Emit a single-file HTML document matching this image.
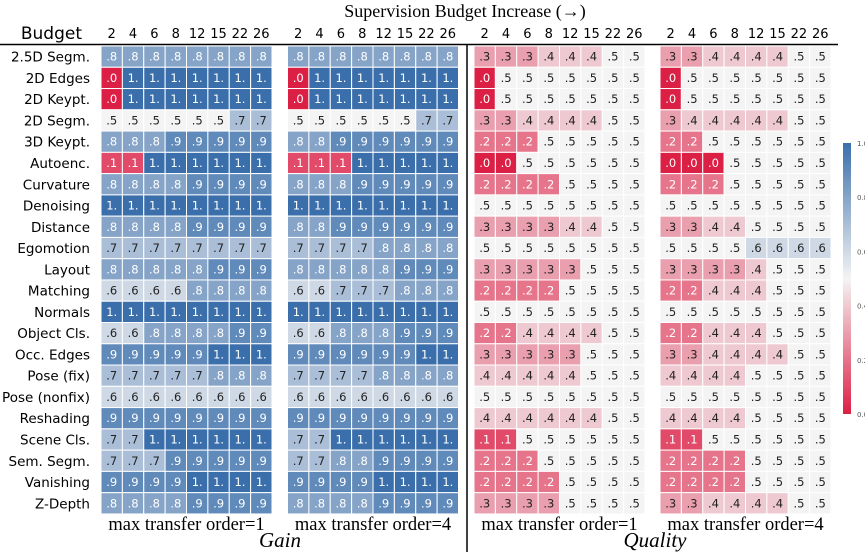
<!DOCTYPE html>
<html><head><meta charset="utf-8"><style>
html,body{margin:0;padding:0;background:#fff;}
svg{display:block;}
.serif{font-family:"Liberation Serif", serif;}
.sans{font-family:"DejaVu Sans", sans-serif;}
</style></head><body>
<svg id="chart" width="865" height="552" viewBox="0 0 865 552" xmlns="http://www.w3.org/2000/svg">
<defs><linearGradient id="cbar" x1="0" y1="1" x2="0" y2="0">
<stop offset="0" stop-color="#dc1f45"/><stop offset="0.5" stop-color="#f4f4f4"/><stop offset="1" stop-color="#3b6fab"/></linearGradient></defs>
<text class="serif" x="465" y="17" font-size="18" text-anchor="middle">Supervision Budget Increase (→)</text>
<text class="sans" x="82" y="39" font-size="17" text-anchor="end">Budget</text>
<line x1="0" y1="44.5" x2="838" y2="44.5" stroke="#000" stroke-width="1.5"/>
<line x1="467" y1="45" x2="467" y2="552" stroke="#000" stroke-width="1.5"/>
<g id="cells"></g>
<rect x="843" y="143" width="8" height="271" fill="url(#cbar)"/>
<g id="cbticks" class="sans" font-size="7" fill="#555"></g>
<text class="serif" x="280" y="547" font-size="21" font-style="italic" text-anchor="middle">Gain</text>
<text class="serif" x="655" y="547" font-size="21" font-style="italic" text-anchor="middle">Quality</text>
</svg>
<script>
const tasks = ["2.5D Segm.","2D Edges","2D Keypt.","2D Segm.","3D Keypt.","Autoenc.","Curvature","Denoising","Distance","Egomotion","Layout","Matching","Normals","Object Cls.","Occ. Edges","Pose (fix)","Pose (nonfix)","Reshading","Scene Cls.","Sem. Segm.","Vanishing","Z-Depth"];
const budgets = ["2","4","6","8","12","15","22","26"];
const panelTitles = ["max transfer order=1","max transfer order=4","max transfer order=1","max transfer order=4"];
const cbTicks = [0,0.2,0.4,0.6,0.8,1.0];
const gainOrder1 = [
[.8,.8,.8,.8,.8,.8,.8,.8],[0,1,1,1,1,1,1,1],[0,1,1,1,1,1,1,1],[.5,.5,.5,.5,.5,.5,.7,.7],
[.8,.8,.8,.9,.9,.9,.9,.9],[.1,.1,1,1,1,1,1,1],[.8,.8,.8,.8,.9,.9,.9,.9],[1,1,1,1,1,1,1,1],
[.8,.8,.8,.8,.9,.9,.9,.9],[.7,.7,.7,.7,.7,.7,.7,.7],[.8,.8,.8,.8,.8,.9,.9,.9],[.6,.6,.6,.6,.8,.8,.8,.8],
[1,1,1,1,1,1,1,1],[.6,.6,.8,.8,.8,.8,.9,.9],[.9,.9,.9,.9,.9,1,1,1],[.7,.7,.7,.7,.7,.8,.8,.8],
[.6,.6,.6,.6,.6,.6,.6,.6],[.9,.9,.9,.9,.9,.9,.9,.9],[.7,.7,1,1,1,1,1,1],[.7,.7,.7,.9,.9,.9,.9,.9],
[.9,.9,.9,.9,1,1,1,1],[.8,.8,.8,.8,.9,.9,.9,.9]];
const gainOrder4 = [
[.8,.8,.8,.8,.8,.8,.8,.8],[0,1,1,1,1,1,1,1],[0,1,1,1,1,1,1,1],[.5,.5,.5,.5,.5,.5,.7,.7],
[.8,.8,.9,.9,.9,.9,.9,.9],[.1,.1,.1,1,1,1,1,1],[.8,.8,.8,.9,.9,.9,.9,.9],[1,1,1,1,1,1,1,1],
[.8,.8,.9,.9,.9,.9,.9,.9],[.7,.7,.7,.7,.8,.8,.8,.8],[.8,.8,.8,.8,.8,.9,.9,.9],[.6,.6,.7,.7,.7,.8,.8,.8],
[1,1,1,1,1,1,1,1],[.6,.6,.8,.8,.8,.9,.9,.9],[.9,.9,.9,.9,.9,.9,1,1],[.7,.7,.7,.7,.8,.8,.8,.8],
[.6,.6,.6,.6,.6,.6,.6,.6],[.9,.9,.9,.9,.9,.9,.9,.9],[.7,.7,1,1,1,1,1,1],[.7,.7,.8,.8,.9,.9,.9,.9],
[.9,.9,.9,.9,1,1,1,1],[.8,.8,.8,.8,.9,.9,.9,.9]];
const qualityOrder1 = [
[.3,.3,.3,.4,.4,.4,.5,.5],[0,.5,.5,.5,.5,.5,.5,.5],[0,.5,.5,.5,.5,.5,.5,.5],[.3,.3,.4,.4,.4,.4,.5,.5],
[.2,.2,.2,.5,.5,.5,.5,.5],[0,0,.5,.5,.5,.5,.5,.5],[.2,.2,.2,.2,.5,.5,.5,.5],[.5,.5,.5,.5,.5,.5,.5,.5],
[.3,.3,.3,.3,.4,.4,.5,.5],[.5,.5,.5,.5,.5,.5,.5,.5],[.3,.3,.3,.3,.3,.5,.5,.5],[.2,.2,.2,.2,.5,.5,.5,.5],
[.5,.5,.5,.5,.5,.5,.5,.5],[.2,.2,.4,.4,.4,.4,.5,.5],[.3,.3,.3,.3,.3,.5,.5,.5],[.4,.4,.4,.4,.4,.5,.5,.5],
[.5,.5,.5,.5,.5,.5,.5,.5],[.4,.4,.4,.4,.4,.4,.5,.5],[.1,.1,.5,.5,.5,.5,.5,.5],[.2,.2,.2,.5,.5,.5,.5,.5],
[.2,.2,.2,.2,.5,.5,.5,.5],[.3,.3,.3,.3,.5,.5,.5,.5]];
const qualityOrder4 = [
[.3,.3,.4,.4,.4,.4,.5,.5],[0,.5,.5,.5,.5,.5,.5,.5],[0,.5,.5,.5,.5,.5,.5,.5],[.3,.4,.4,.4,.4,.4,.5,.5],
[.2,.2,.5,.5,.5,.5,.5,.5],[0,0,0,.5,.5,.5,.5,.5],[.2,.2,.2,.5,.5,.5,.5,.5],[.5,.5,.5,.5,.5,.5,.5,.5],
[.3,.3,.4,.4,.5,.5,.5,.5],[.5,.5,.5,.5,.6,.6,.6,.6],[.3,.3,.3,.3,.4,.5,.5,.5],[.2,.2,.4,.4,.4,.5,.5,.5],
[.5,.5,.5,.5,.5,.5,.5,.5],[.2,.2,.4,.4,.4,.5,.5,.5],[.3,.3,.4,.4,.4,.4,.5,.5],[.4,.4,.4,.4,.5,.5,.5,.5],
[.5,.5,.5,.5,.5,.5,.5,.5],[.4,.4,.4,.4,.5,.5,.5,.5],[.1,.1,.5,.5,.5,.5,.5,.5],[.2,.2,.2,.2,.5,.5,.5,.5],
[.2,.2,.2,.2,.5,.5,.5,.5],[.3,.3,.4,.4,.4,.4,.5,.5]];

const panels = [gainOrder1, gainOrder4, qualityOrder1, qualityOrder4];
const panelX = [101, 287.5, 474, 660];
const cellW = 21.375, topY = 46, cellH = 21.27;
const NS = "http://www.w3.org/2000/svg";
const svgEl = document.getElementById('chart');
const cellGroup = document.getElementById('cells');
function xPos(p, c){ return panelX[p] + c*cellW; }
function yPos(r){ return topY + r*cellH; }
function mix(a,b,t){ return a.map((v,i)=>Math.round(v+(b[i]-v)*t)); }
function color(v){
  const red=[220,31,69], mid=[244,244,244], blue=[59,111,171];
  const c = v<0.5 ? mix(red,mid,v/0.5) : mix(mid,blue,(v-0.5)/0.5);
  return `rgb(${c[0]},${c[1]},${c[2]})`;
}
function label(v){ if (v>=1) return "1."; return "." + Math.round(v*10); }
function mk(tag, attrs, text){
  const e=document.createElementNS(NS,tag);
  for(const k in attrs) e.setAttribute(k,attrs[k]);
  if(text!==undefined) e.textContent=text;
  return e;
}
tasks.forEach((t,r)=>{
  const e=mk('text',{x:90,y:yPos(r)+cellH/2+5,'class':'sans','font-size':13.5,'text-anchor':'end'},t);
  
  
  svgEl.appendChild(e);
});
panels.forEach((data,p)=>{
  budgets.forEach((b,c)=>{
    const e=mk('text',{x:xPos(p,c)+cellW/2,y:38,'class':'sans','font-size':13,'text-anchor':'middle'},b);
    
    
    svgEl.appendChild(e);
  });
  data.forEach((row,r)=>{
    row.forEach((v,c)=>{
      const rect=mk('rect',{x:xPos(p,c),y:yPos(r),width:cellW,height:cellH,fill:color(v),stroke:'#fff','stroke-width':1});
      
      
      cellGroup.appendChild(rect);
      const dark = Math.abs(v-0.5)<0.25;
      const tx=mk('text',{x:xPos(p,c)+cellW/2,y:yPos(r)+cellH/2+4,'class':'sans','font-size':11.5,'text-anchor':'middle',fill:dark?'#222':'#fff'},label(v));
      
      
      cellGroup.appendChild(tx);
    });
  });
  const pt=mk('text',{x:panelX[p]+4*cellW,y:530,'style':'font-family:"Liberation Serif", serif;font-size:18.5px','text-anchor':'middle'},panelTitles[p]);
  
  
  svgEl.appendChild(pt);
});
const cbg=document.getElementById('cbticks');
cbTicks.forEach(v=>{
  const e=mk('text',{x:857,y:414-v*271+3},v.toFixed(1));
  
  
  cbg.appendChild(e);
});
</script>
</body></html>
